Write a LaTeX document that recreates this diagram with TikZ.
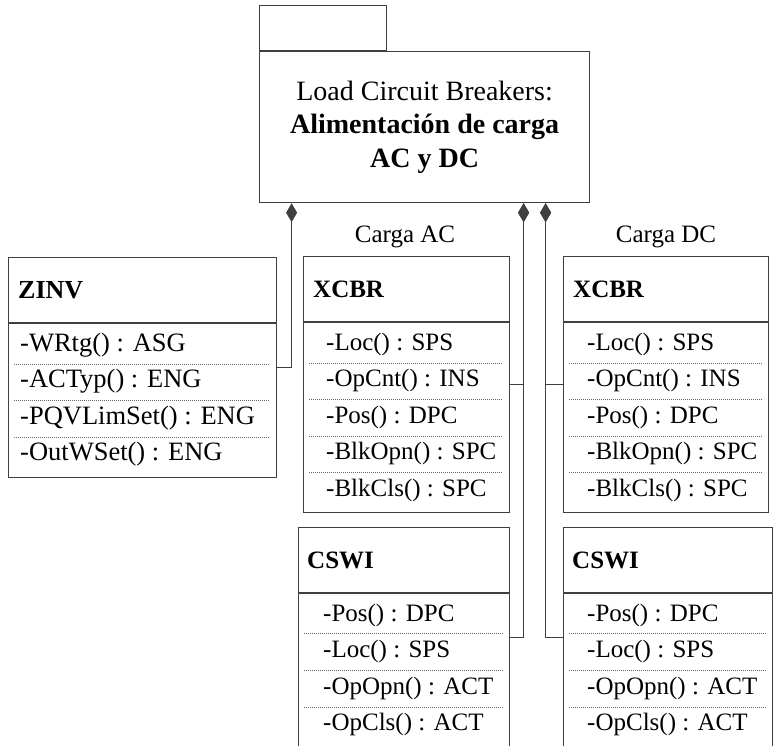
\documentclass[tikz,border=0pt]{standalone}
\usepackage{fontspec}
\setmainfont{Liberation Serif}
\usetikzlibrary{arrows.meta}

\begin{document}
\begin{tikzpicture}[x=1pt,y=-1pt,
    box/.style={draw=black!75,line width=1.2pt,anchor=north west,inner sep=0pt},
    hdr/.style={anchor=west,inner sep=0pt,font=\fontsize{25}{30}\selectfont\bfseries},
    attr/.style={anchor=west,inner sep=0pt,font=\fontsize{25}{30}\selectfont},
    sep/.style={black!60,line width=.8pt,dash pattern=on 1pt off 1pt},
    comp/.style={draw=black!75,line width=1.2pt,{Diamond[length=19pt,width=11pt]}-}]
  \useasboundingbox (0,0) rectangle (773,746);
  \clip (0,0) rectangle (773,746);
  % package
  \node[box,minimum width=330pt,minimum height=151pt,align=center,
    font=\fontsize{28}{33.5}\selectfont] (pkg) at (259,51)
    {Load Circuit Breakers:\\\textbf{Alimentación de carga}\\\textbf{AC y DC}};
  \node[box,anchor=south west,minimum width=127pt,minimum height=45pt] (tab) at (pkg.north west) {};
  \node[attr,anchor=center] (lblac) at (405,237) {Carga AC};
  \node[attr,anchor=center] (lbldc) at (666,237) {Carga DC};
  % ZINV
  \node[box,minimum width=268pt,minimum height=220pt] (zinv) at (8,257) {};
  \node[hdr,font=\fontsize{26}{30}\selectfont\bfseries] (zinv-h) at (18,290) {ZINV};
  \draw[box] (zinv.west |- 0,323) -- (zinv.east |- 0,323);
  \foreach \t [count=\i] in {-WRtg() : ASG,-ACTyp() : ENG,-PQVLimSet() : ENG,-OutWSet() : ENG}
    \node[attr,font=\fontsize{26.5}{30}\selectfont] (zinv-\i) at (20,{345+36.5*(\i-1)}) {\t};
  \foreach \i in {1,2,3}
    \draw[sep] (14,{364+36.5*(\i-1)}) -- (270,{364+36.5*(\i-1)});
  % XCBR (AC)
  \node[box,minimum width=206pt,minimum height=256pt] (xcbrac) at (303,256) {};
  \node[hdr] (xcbrac-h) at (313,289) {XCBR};
  \draw[box] (xcbrac.west |- 0,322) -- (xcbrac.east |- 0,322);
  \foreach \t [count=\i] in {-Loc() : SPS,-OpCnt() : INS,-Pos() : DPC,-BlkOpn() : SPC,-BlkCls() : SPC}
    \node[attr] (xcbrac-\i) at (326,{344+36.5*(\i-1)}) {\t};
  \foreach \i in {1,...,4}
    \draw[sep] (309,{363+36.5*(\i-1)}) -- (503,{363+36.5*(\i-1)});
  % CSWI (AC)
  \node[box,minimum width=211pt,minimum height=220pt] (cswiac) at (298,527) {};
  \node[hdr] (cswiac-h) at (307,560) {CSWI};
  \draw[box] (cswiac.west |- 0,593) -- (cswiac.east |- 0,593);
  \foreach \t [count=\i] in {-Pos() : DPC,-Loc() : SPS,-OpOpn() : ACT,-OpCls() : ACT}
    \node[attr] (cswiac-\i) at (323,{615+36.5*(\i-1)}) {\t};
  \foreach \i in {1,2,3}
    \draw[sep] (304,{633+37*(\i-1)}) -- (503,{633+37*(\i-1)});
  % XCBR (DC)
  \node[box,minimum width=205pt,minimum height=256pt] (xcbrdc) at (563,256) {};
  \node[hdr] (xcbrdc-h) at (573,289) {XCBR};
  \draw[box] (xcbrdc.west |- 0,322) -- (xcbrdc.east |- 0,322);
  \foreach \t [count=\i] in {-Loc() : SPS,-OpCnt() : INS,-Pos() : DPC,-BlkOpn() : SPC,-BlkCls() : SPC}
    \node[attr] (xcbrdc-\i) at (587,{344+36.5*(\i-1)}) {\t};
  \foreach \i in {1,...,4}
    \draw[sep] (569,{363+36.5*(\i-1)}) -- (762,{363+36.5*(\i-1)});
  % CSWI (DC)
  \node[box,minimum width=209pt,minimum height=220pt] (cswidc) at (563,527) {};
  \node[hdr] (cswidc-h) at (572,560) {CSWI};
  \draw[box] (cswidc.west |- 0,593) -- (cswidc.east |- 0,593);
  \foreach \t [count=\i] in {-Pos() : DPC,-Loc() : SPS,-OpOpn() : ACT,-OpCls() : ACT}
    \node[attr] (cswidc-\i) at (587,{615+36.5*(\i-1)}) {\t};
  \foreach \i in {1,2,3}
    \draw[sep] (569,{633+37*(\i-1)}) -- (766,{633+37*(\i-1)});
  % composition links
  \draw[comp] ([xshift=-133pt]pkg.south) |- (zinv.east);
  \draw[comp] ([xshift=99pt]pkg.south) |- (xcbrac.east);
  \draw[comp] ([xshift=99pt]pkg.south) |- (cswiac.east);
  \draw[comp] ([xshift=121pt]pkg.south) |- (xcbrdc.west);
  \draw[comp] ([xshift=121pt]pkg.south) |- (cswidc.west);
\end{tikzpicture}
\end{document}
